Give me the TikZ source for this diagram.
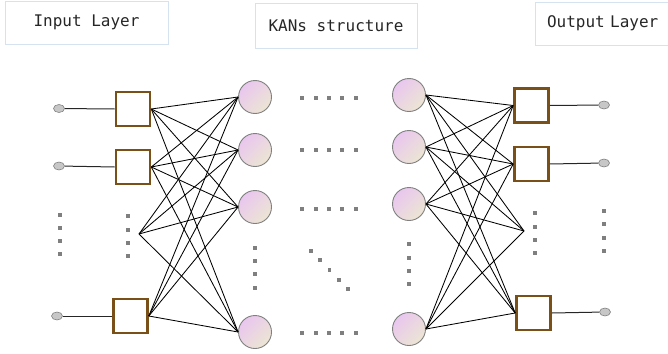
\documentclass[tikz,border=0pt]{standalone}
\usepackage{fontspec}
\setmonofont{DejaVu Sans Mono}
\usetikzlibrary{shapes,shapes.geometric,calc}
\definecolor{titlec}{HTML}{D5E3F1}
\definecolor{brownc}{HTML}{7A5019}
\definecolor{pinkc}{HTML}{E9C6EF}
\definecolor{beigec}{HTML}{ECE6D3}
\definecolor{dotc}{HTML}{7F7F7F}
\tikzset{
  title_n/.style = {draw=titlec, line width=0.8pt, inner sep=0pt, font=\ttfamily\fontsize{16}{18}\selectfont, text=black!85},
  io_pt/.style = {ellipse, draw=gray, fill=black!22, line width=0.6pt, minimum width=11pt, minimum height=8pt, inner sep=0pt},
  fn_box/.style = {rectangle, draw=brownc, line width=2.6pt, minimum size=34pt, inner sep=0pt},
  kan_n/.style = {circle, draw=black!50, line width=0.9pt, minimum size=33pt, inner sep=0pt, top color=pinkc, bottom color=beigec, shading angle=45},
  wire/.style = {black!85, line width=1pt},
  edge_l/.style = {black, line width=0.85pt}
}

\begin{document}
\begin{tikzpicture}[x=1pt,y=-1pt]
	\useasboundingbox (0,0) rectangle (668,353);
	\clip (0,0) rectangle (668,353);

	% headings
	\node [title_n, minimum width=163pt, minimum height=43pt] (t_in) at (86.5,22.5) {Input Layer};
	\node [title_n, minimum width=162pt, minimum height=45pt] (t_kan) at (336,25.5) {KANs structure};
	\node [title_n, minimum width=140pt, minimum height=43pt, text width=116pt, align=left] (t_out) at (605,23.5) {Output Layer};

	% input side
	\node [io_pt] (x1) at (59,108.5) {};
	\node [io_pt] (x2) at (59,166) {};
	\node [io_pt] (x3) at (57,316) {};
	\node [fn_box] (i1) at (133,109) {};
	\node [fn_box] (i2) at (133,167) {};
	\node [fn_box] (i3) at (130.5,316) {};
	\coordinate (i4) at (139,234);

	% hidden columns
	\node [kan_n] (h1) at (255,97) {};
	\node [kan_n] (h2) at (255,150) {};
	\node [kan_n] (h3) at (255,207) {};
	\node [kan_n] (h4) at (255,332) {};
	\node [kan_n] (g1) at (409,95) {};
	\node [kan_n] (g2) at (409,147) {};
	\node [kan_n] (g3) at (409,204) {};
	\node [kan_n] (g4) at (409,329) {};

	% output side
	\node [fn_box] (o1) at (531.5,105.5) {};
	\node [fn_box] (o2) at (531.5,164) {};
	\node [fn_box] (o3) at (533.5,313) {};
	\coordinate (o4) at (524,231);
	\node [io_pt] (y1) at (604,105) {};
	\node [io_pt] (y2) at (604,163) {};
	\node [io_pt] (y3) at (605,312) {};

	% wires to the boxes
	\draw [wire] (x1) -- (i1.west);
	\draw [wire] (x2) -- (i2.west);
	\draw [wire] (x3) -- (i3.west);
	\draw [wire] (o1.east) -- (y1);
	\draw [wire] (o2.east) -- (y2);
	\draw [wire] (o3.east) -- (y3);

	% fully connected layers
	\foreach \a in {1,2,3} {
		\foreach \b in {1,2,3,4} {
			\draw [edge_l] (i\a.east) -- (h\b.west);
			\draw [edge_l] (g\b.east) -- (o\a.west);
		}
	}
	\foreach \b in {1,2,3,4} {
		\draw [edge_l] (i4) -- (h\b.west);
		\draw [edge_l] (g\b.east) -- (o4);
	}

	% ellipsis dots
	\foreach \x/\y in {60/215,60/228,60/241,60/254, 128/216,128/230,128/243,128/256,
		255/248,255/261,255/274,255/288, 409/244,409/258,409/271,409/284,
		535/213,535/227,535/240,535/253, 604/211,604/224,604/238,604/251,
		311/251,320/260,329.5/270,339/280,348/289}
		\fill [dotc] (\x-1.6,\y-1.6) rectangle (\x+1.6,\y+1.6);
	\foreach \y in {98,150,209,333}
		\foreach \x in {302,316,329,342,356}
			\fill [dotc] (\x-1.6,\y-1.6) rectangle (\x+1.6,\y+1.6);
\end{tikzpicture}
\end{document}
